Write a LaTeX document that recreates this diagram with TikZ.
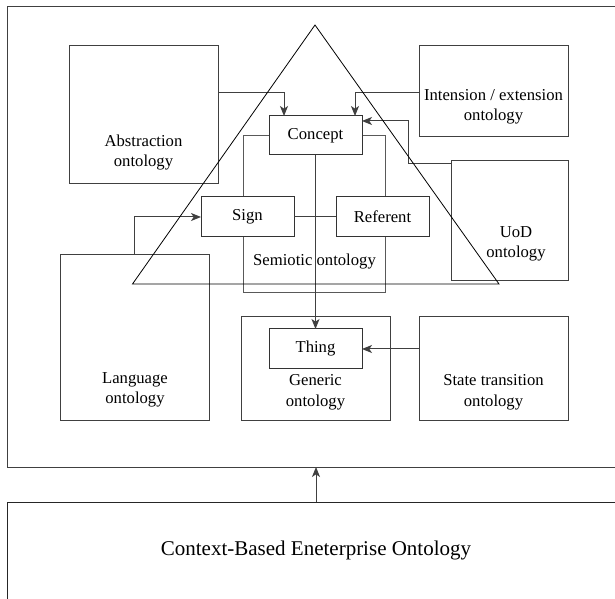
\documentclass[tikz,border=0pt]{standalone}
\usepackage{fontspec}
\setmainfont{Liberation Serif}
\usetikzlibrary{arrows.meta}
\begin{document}
\begin{tikzpicture}[x=0.75pt,y=-0.75pt,
  every node/.style={font=\fontsize{12.5}{15.4}\selectfont, outer sep=0pt},
  frame/.style={draw=black!75, line width=0.75pt, minimum width=#1},
  conceptbox/.style={draw=black!80, fill=white, line width=0.75pt,
    minimum width=69.75pt, minimum height=30pt, inner sep=0pt},
  semframe/.style={draw=black!65, line width=0.75pt},
  label/.style={align=center, inner sep=0pt},
  link/.style={draw=black!75, line width=0.75pt},
  arr/.style={link, -{Stealth[length=7.5pt,width=6pt,inset=2pt]}},
  tri/.style={draw=black, line width=0.6pt}]
\useasboundingbox (0,0) rectangle (615,599);
\clip (0,0) rectangle (615,599);

% outer containers
\node[frame=461.25pt, minimum height=345pt] (top) at (314.5,237) {};
\node[frame=461.25pt, minimum height=82.5pt, draw=black!85] (ctx) at (314.5,557) {};
\node[font=\fontsize{15.75}{19}\selectfont, inner sep=0pt] (title) at (316,550) {Context-Based Eneterprise Ontology};

% ontology boxes
\node[frame=111.75pt, minimum height=103.5pt] (abs) at (143.5,115) {};
\node[frame=111.75pt, minimum height=68.25pt] (int) at (493.5,91.5) {};
\node[frame=87.75pt, minimum height=90pt] (uod) at (509.5,221) {};
\node[frame=112.125pt, minimum height=124.5pt] (lang) at (134.75,338) {};
\node[frame=111.75pt, minimum height=78pt] (gen) at (315.5,369) {};
\node[frame=111.75pt, minimum height=78pt] (st) at (493.5,369) {};

\node[label] (abstxt) at (143.5,152.5) {Abstraction\\ontology};
\node[label] (inttxt) at (493.5,107) {Intension / extension\\ontology};
\node[label] (uodtxt) at (516,244) {UoD\\ontology};
\node[label] (langtxt) at (135,390) {Language\\ontology};
\node[label] (gentxt) at (315.5,392.5) {Generic\\ontology};
\node[label] (sttxt) at (493.5,392.5) {State transition\\ontology};

% semiotic frame behind the concept boxes
\node[semframe, minimum width=106.5pt, minimum height=117.75pt] (sem) at (314.5,214.5) {};
\node[label] (semtxt) at (314.5,262) {Semiotic ontology};

\node[conceptbox, minimum height=29.25pt] (cpt) at (315.5,135.5) {Concept};
\node[conceptbox] (sign) at (247.5,217) {Sign};
\node[conceptbox] (ref) at (382.5,217) {Referent};
\node[conceptbox] (thing) at (315.5,349) {Thing};

% connectors
\draw[link] (sign.east) -- (ref.west);
\draw[arr] ([yshift=-35.25pt]abs.north east) -| ([xshift=-23.625pt]cpt.north);
\draw[arr] ([yshift=-35.25pt]int.north west) -| ([xshift=29.625pt]cpt.north);
\draw[arr] ([yshift=-2.25pt]uod.north west) -- ++(-31.8pt,0) |- ([yshift=10.875pt]cpt.east);
\draw[arr] (lang.north) |- (sign.west);
\draw[arr] (cpt.south) -- (thing.north);
\draw[arr] (st.west |- thing.east) -- (thing.east);
\draw[arr] (title.north |- ctx.north) -- (title.north |- top.south);

% semiotic triangle
\draw[tri] (315,25) -- (132.5,284) -- (499,284) -- cycle;
\end{tikzpicture}
\end{document}
